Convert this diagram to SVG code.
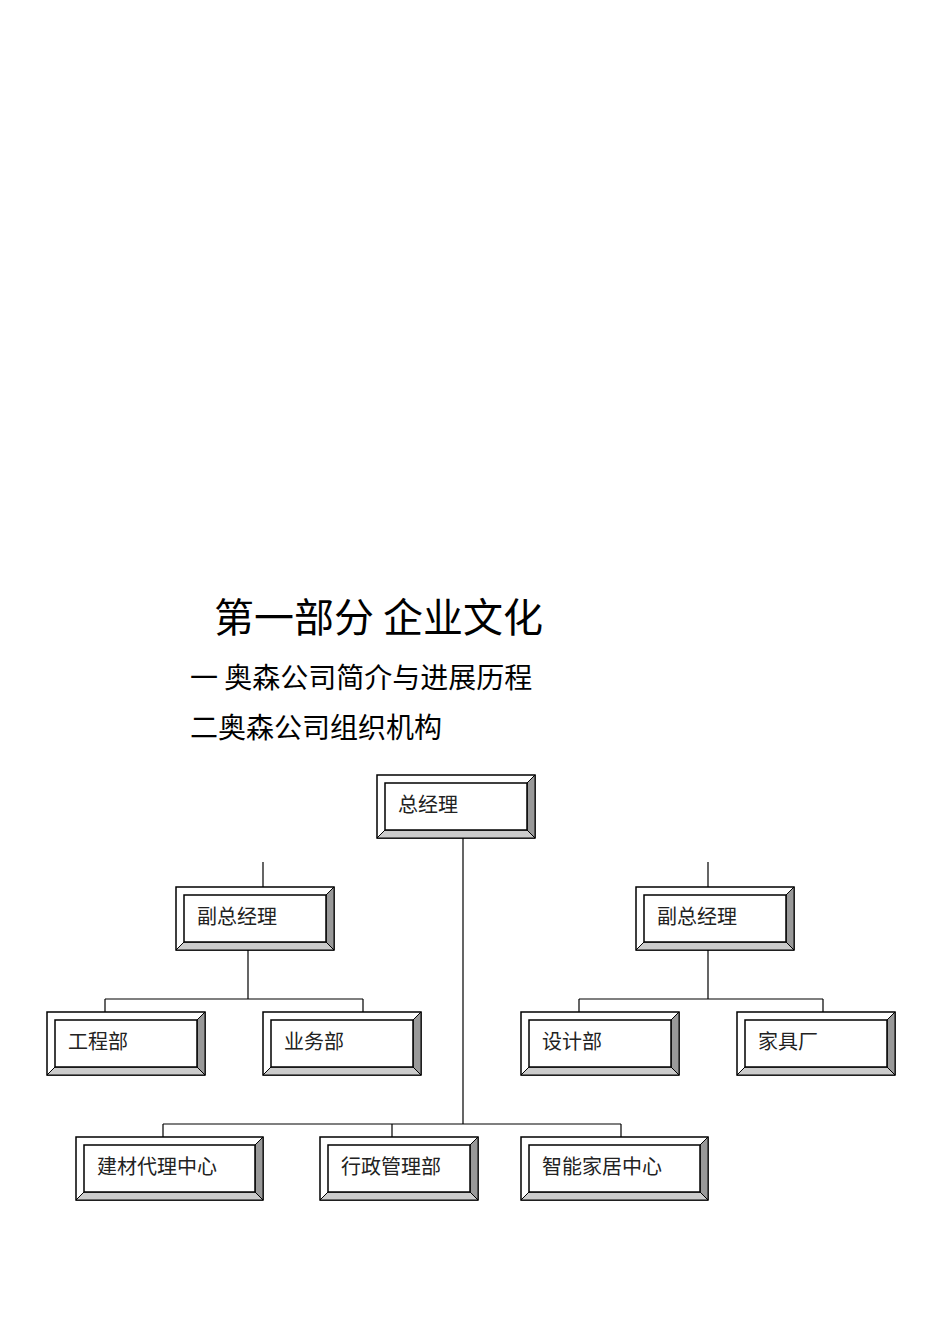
<svg xmlns="http://www.w3.org/2000/svg" width="950" height="1344" viewBox="0 0 950 1344">
<style>
.o{fill:#fff;stroke:#000;stroke-width:1.5}
.dk{fill:#999;stroke:#000;stroke-width:1}
.lt{fill:#ccc;stroke:#000;stroke-width:1}
.wt{fill:#fff;stroke:#000;stroke-width:1}
.in{fill:#fff;stroke:#000;stroke-width:1.5}
.bt{font-family:"Liberation Sans","Noto Sans CJK SC",sans-serif;font-size:20px;fill:#222}
.h{font-family:"Noto Sans CJK SC",sans-serif;fill:#000}
.c{stroke:#000;stroke-width:1.2;fill:none}
</style>
<defs>
<g id="b158">
<rect class="o" x="0" y="0" width="158" height="63"/>
<polygon class="dk" points="158,0 150,8 150,55 158,63"/>
<polygon class="lt" points="0,63 8,55 150,55 158,63"/>
<rect class="in" x="8" y="8" width="142" height="47"/>
</g>
<g id="b187">
<rect class="o" x="0" y="0" width="187" height="63"/>
<polygon class="dk" points="187,0 179,8 179,55 187,63"/>
<polygon class="lt" points="0,63 8,55 179,55 187,63"/>
<rect class="in" x="8" y="8" width="171" height="47"/>
</g>
</defs>
<rect width="950" height="1344" fill="#fff"/>
<text class="h" x="214" y="632" font-size="40">第一部分  企业文化</text>
<text class="h" x="190" y="688" font-size="28">一  奥森公司简介与进展历程</text>
<text class="h" x="190" y="738" font-size="28">二奥森公司组织机构</text>
<g id="connectors">
<path class="c" d="M463 838V1124M263 862V887M708 862V900M248 950V999M105 999H363M105 999V1012M363 999V1012M708 950V999M579 999H823M579 999V1012M823 999V1012M163 1124H621M163 1124V1137M392 1124V1137M621 1124V1137"/>
</g>
<g id="n1"><use href="#b158" x="377" y="775"/><text class="bt" x="398" y="812">总经理</text></g>
<g id="n2"><use href="#b158" x="176" y="887"/><text class="bt" x="197" y="924">副总经理</text></g>
<g id="n3"><use href="#b158" x="636" y="887"/><text class="bt" x="657" y="924">副总经理</text></g>
<g id="n4"><use href="#b158" x="47" y="1012"/><text class="bt" x="68" y="1049">工程部</text></g>
<g id="n5"><use href="#b158" x="263" y="1012"/><text class="bt" x="284" y="1049">业务部</text></g>
<g id="n6"><use href="#b158" x="521" y="1012"/><text class="bt" x="542" y="1049">设计部</text></g>
<g id="n7"><use href="#b158" x="737" y="1012"/><text class="bt" x="758" y="1049">家具厂</text></g>
<g id="n8"><use href="#b187" x="76" y="1137"/><text class="bt" x="97" y="1174">建材代理中心</text></g>
<g id="n9"><use href="#b158" x="320" y="1137"/><text class="bt" x="341" y="1174">行政管理部</text></g>
<g id="n10"><use href="#b187" x="521" y="1137"/><text class="bt" x="542" y="1174">智能家居中心</text></g>
</svg>
